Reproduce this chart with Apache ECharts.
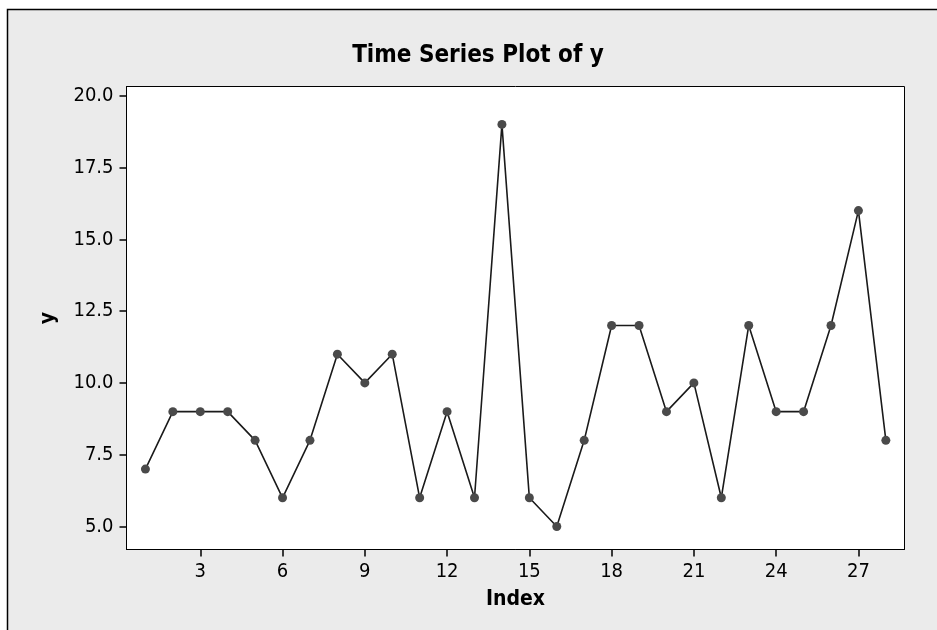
<!DOCTYPE html>
<html>
<head>
<meta charset="utf-8">
<script src="https://cdn.jsdelivr.net/npm/echarts@6/dist/echarts.min.js"></script>
<style>
html,body{margin:0;padding:0;background:#fff;}
#c{width:937px;height:630px;}
</style>
</head>
<body>
<div id="c"></div>
<script>
const indexValues = [1,2,3,4,5,6,7,8,9,10,11,12,13,14,15,16,17,18,19,20,21,22,23,24,25,26,27,28];
const yValues = [7,9,9,9,8,6,8,11,10,11,6,9,6,19,6,5,8,12,12,9,10,6,12,9,9,12,16,8];
const xTicks = [3,6,9,12,15,18,21,24,27];
const yTicks = [5.0,7.5,10.0,12.5,15.0,17.5,20.0];

const FONT = '"DejaVu Sans Condensed", "DejaVu Sans", sans-serif';
const chart = echarts.init(document.getElementById('c'));
chart.setOption({
  backgroundColor: '#fff',
  animation: false,
  graphic: [
    { type: 'rect', z: -10, shape: { x: 8, y: 10, width: 940, height: 630 }, style: { fill: '#ebebeb' } },
    { type: 'polyline', z: -9, shape: { points: [[7.5, 640], [7.5, 9.5], [940, 9.5]] }, style: { stroke: '#000', lineWidth: 1.5, fill: null } }
  ],
  title: {
    text: 'Time Series Plot of y',
    left: 473, top: 39, textAlign: 'center',
    textStyle: { fontFamily: FONT, fontWeight: 'bold', fontSize: 24, color: '#000' }
  },
  grid: {
    left: 126.5, top: 86.5, right: 32.5, bottom: 80.5,
    show: true, backgroundColor: '#fff', borderColor: '#000', borderWidth: 1
  },
  xAxis: {
    type: 'value', min: 0.31, max: 28.68,
    name: 'Index', nameLocation: 'middle', nameGap: 40,
    nameTextStyle: { fontFamily: FONT, fontWeight: 'bold', fontSize: 21, color: '#000' },
    axisLine: { show: true, lineStyle: { color: '#000', width: 1 } },
    axisTick: { show: true, length: 7, customValues: xTicks, lineStyle: { color: '#000', width: 1.5 } },
    axisLabel: { customValues: xTicks, margin: 12, fontFamily: FONT, fontSize: 20, color: '#000' },
    splitLine: { show: false }
  },
  yAxis: {
    type: 'value', min: 4.2, max: 20.32,
    name: 'y', nameLocation: 'middle', nameGap: 67, nameRotate: 90,
    nameTextStyle: { fontFamily: FONT, fontWeight: 'bold', fontSize: 21, color: '#000' },
    axisLine: { show: true, lineStyle: { color: '#000', width: 1 } },
    axisTick: { show: true, length: 7, customValues: yTicks, lineStyle: { color: '#000', width: 1.5 } },
    axisLabel: { customValues: yTicks, margin: 13, fontFamily: FONT, fontSize: 20, color: '#000',
      formatter: v => Number(v).toFixed(1) },
    splitLine: { show: false }
  },
  series: [{
    type: 'line',
    data: indexValues.map((x, i) => [x, yValues[i]]),
    symbol: 'circle', symbolSize: 9,
    itemStyle: { color: '#4a4a4a' },
    lineStyle: { color: '#1a1a1a', width: 1.6 }
  }]
});
</script>
</body>
</html>
